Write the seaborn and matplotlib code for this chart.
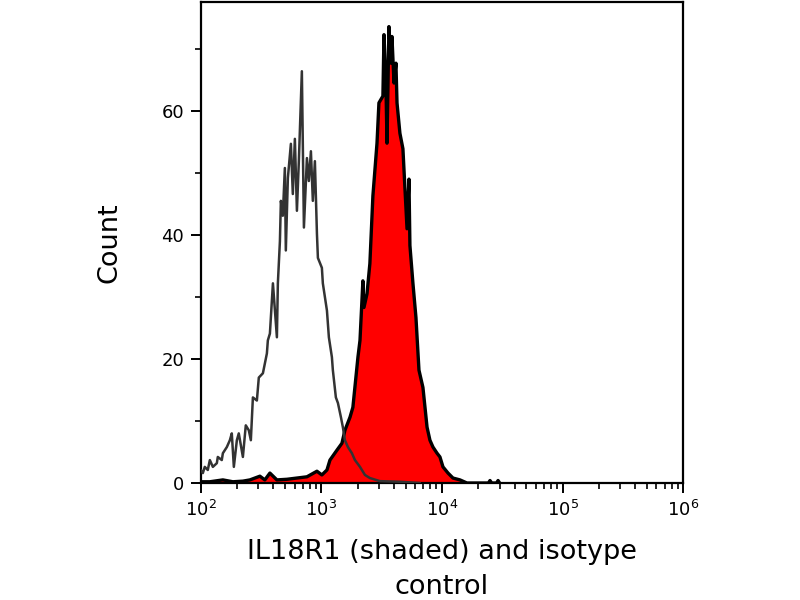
import matplotlib
matplotlib.use('Agg')

import matplotlib.pyplot as plt
import seaborn as sns
import numpy as np
import pandas as pd
from matplotlib.ticker import FixedLocator

# log10 channel positions and counts
iso_lx = [2.000, 2.017, 2.033, 2.058, 2.075, 2.100, 2.133, 2.141, 2.174, 2.183,
          2.216, 2.241, 2.257, 2.274, 2.299, 2.315, 2.349, 2.373, 2.398, 2.415,
          2.432, 2.465, 2.481, 2.515, 2.548, 2.556, 2.573, 2.598, 2.631, 2.639,
          2.656, 2.664, 2.680, 2.697, 2.705, 2.722, 2.747, 2.763, 2.780, 2.797,
          2.813, 2.838, 2.855, 2.880, 2.896, 2.913, 2.929, 2.946, 2.963, 2.971,
          3.004, 3.012, 3.046, 3.062, 3.087, 3.095, 3.120, 3.137, 3.162, 3.178,
          3.195, 3.220, 3.253, 3.278, 3.320, 3.361, 3.402, 3.485, 3.651, 3.817]
iso_count = [2.1, 1.6, 2.6, 2.1, 3.7, 2.6, 3.2, 4.2, 3.7, 4.8,
             5.8, 6.9, 8.0, 2.6, 6.9, 8.0, 4.2, 9.3, 8.5, 6.9,
             13.8, 13.3, 17.0, 17.7, 20.9, 23.0, 24.1, 32.2, 23.5, 32.2,
             39.0, 45.5, 43.1, 50.8, 37.5, 49.2, 54.7, 46.6, 55.5, 43.9,
             51.9, 66.4, 41.2, 52.4, 48.7, 53.5, 45.5, 51.9, 40.2, 36.3,
             34.7, 32.2, 27.8, 23.5, 20.3, 18.2, 13.8, 12.9, 10.6, 9.0,
             6.9, 5.8, 4.8, 3.7, 2.6, 1.3, 0.8, 0.3, 0.2, 0.0]

red_lx = [2.000, 2.075, 2.183, 2.266, 2.349, 2.407, 2.490, 2.531, 2.573, 2.631,
          2.714, 2.797, 2.880, 2.963, 3.004, 3.046, 3.071, 3.129, 3.170, 3.195,
          3.237, 3.261, 3.303, 3.320, 3.344, 3.353, 3.378, 3.402, 3.427, 3.461,
          3.477, 3.510, 3.519, 3.535, 3.544, 3.560, 3.577, 3.585, 3.602, 3.618,
          3.627, 3.651, 3.676, 3.693, 3.710, 3.726, 3.734, 3.759, 3.784, 3.809,
          3.842, 3.876, 3.900, 3.925, 3.959, 3.983, 4.008, 4.050, 4.091, 4.149,
          4.207, 4.385, 4.398, 4.412, 4.452, 4.465, 4.478]
red_count = [0.2, 0.2, 0.5, 0.2, 0.3, 0.5, 1.1, 0.5, 1.6, 0.5,
             0.6, 0.8, 1.0, 1.9, 1.3, 2.1, 3.7, 5.3, 6.4, 8.5,
             10.6, 12.2, 20.3, 23.0, 32.6, 28.3, 30.5, 35.4, 46.3, 54.8,
             61.3, 62.4, 72.3, 64.5, 54.8, 73.6, 67.7, 72.0, 64.5, 67.7,
             61.3, 56.4, 53.9, 47.4, 41.0, 49.0, 38.3, 32.2, 26.7, 18.2,
             15.4, 9.0, 6.9, 5.8, 4.8, 4.2, 2.6, 1.6, 0.8, 0.5,
             0.0, 0.0, 0.4, 0.0, 0.0, 0.4, 0.0]

y_major = [0, 20, 40, 60]
y_minor = [10, 30, 50, 70]
x_label = "IL18R1 (shaded) and isotype\ncontrol"
y_label = "Count"

sns.set_style("ticks")
plt.rcParams['font.family'] = ['DejaVu Sans']
plt.rcParams['text.color'] = 'black'
plt.rcParams['axes.labelcolor'] = 'black'

iso_df = pd.DataFrame({"x": np.power(10.0, iso_lx), "count": iso_count})
red_df = pd.DataFrame({"x": np.power(10.0, red_lx), "count": red_count})

fig = plt.figure(figsize=(8, 6), dpi=100)
ax = fig.add_axes([0.251, 0.195, 0.603, 0.802])

ax.set_xscale('log')
ax.fill_between(red_df["x"], 0, red_df["count"], color='#ff0000', lw=0, zorder=2)
sns.lineplot(data=red_df, x="x", y="count", ax=ax, color='black', lw=2.4,
             estimator=None, sort=False, zorder=3)
sns.lineplot(data=iso_df, x="x", y="count", ax=ax, color='#333333', lw=1.8,
             estimator=None, sort=False, zorder=4)

ax.set_xlim(1e2, 1e6)
ax.set_ylim(0, 77.6)
ax.yaxis.set_major_locator(FixedLocator(y_major))
ax.yaxis.set_minor_locator(FixedLocator(y_minor))

for side in ['left', 'right', 'top', 'bottom']:
    ax.spines[side].set_visible(True)
    ax.spines[side].set_linewidth(1.6)
    ax.spines[side].set_color('black')

ax.tick_params(axis='both', which='major', direction='out', length=7, width=1.4,
               labelsize=13, color='black', labelcolor='black', pad=5)
ax.tick_params(axis='both', which='minor', direction='out', length=4, width=1.2,
               color='black')
ax.tick_params(top=False, right=False, which='both')

ax.set_xlabel(x_label, fontsize=19.5, labelpad=14, linespacing=1.45)
ax.set_ylabel(y_label, fontsize=19.5, labelpad=28)

fig.savefig("out.png", dpi=100)
plt.close(fig)
